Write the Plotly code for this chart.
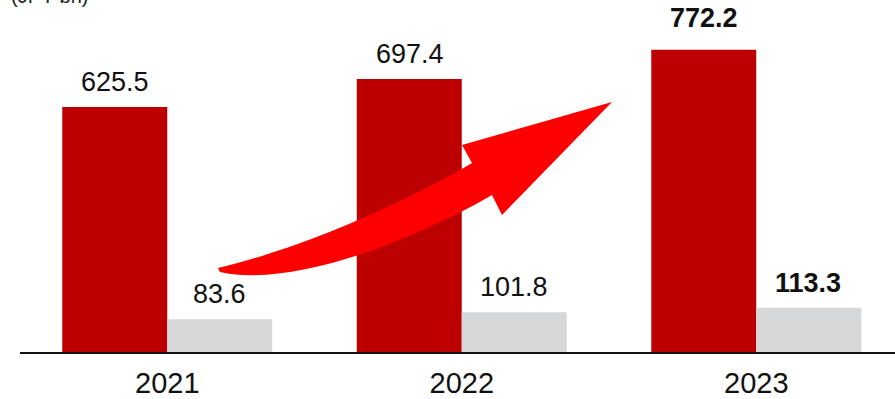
import plotly.graph_objects as go

years = ["2021", "2022", "2023"]
series_a = [625.5, 697.4, 772.2]
series_b = [83.6, 101.8, 113.3]
label_a = ["625.5", "697.4", "<b>772.2</b>"]
label_b = ["83.6", "101.8", "<b>113.3</b>"]
unit_label = "(JPY bn)"

W, H = 895, 399
ML, MR, MT, MB = 20, 0, 0, 47
PW, PH = W - ML - MR, H - MT - MB
SPACING = 294.5

RED = "#BC0000"
GRAY = "#D6D7D9"
FONT = "Liberation Sans, Arial, sans-serif"

shift_a = [8, 8, 15]
shift_b = [8, 8, 8]

fig = go.Figure()
fig.add_trace(go.Bar(x=years, y=series_a, marker=dict(color=RED, line=dict(width=0)), hoverinfo="skip"))
fig.add_trace(go.Bar(x=years, y=series_b, marker=dict(color=GRAY, line=dict(width=0)), hoverinfo="skip"))

annotations = []
for i, (v, t) in enumerate(zip(series_a, label_a)):
    annotations.append(dict(x=i, y=v, text=t, showarrow=False, xshift=-52, yanchor="bottom", yshift=shift_a[i],
                            font=dict(size=27, color="#111111", family=FONT)))
for i, (v, t) in enumerate(zip(series_b, label_b)):
    annotations.append(dict(x=i, y=v, text=t, showarrow=False, xshift=52, yanchor="bottom", yshift=shift_b[i],
                            font=dict(size=27, color="#111111", family=FONT)))
annotations.append(dict(xref="paper", yref="paper", x=0, y=1, xanchor="left", yanchor="middle",
                        xshift=-11, yshift=4, text=unit_label, showarrow=False,
                        font=dict(size=20, color="#222222", family=FONT)))


def px(x, y):
    return f"{(x - ML) / PW:.5f},{(MT + PH - y) / PH:.5f}"


arrow_path = (
    f"M {px(218,268)} "
    f"C {px(295,250)} {px(395,208)} {px(472,163)} "
    f"L {px(462,145)} L {px(612,102)} L {px(502,215)} L {px(492,195)} "
    f"C {px(400,248)} {px(285,287)} {px(220,272)} Z"
)

fig.update_layout(
    width=W, height=H,
    margin=dict(l=ML, r=MR, t=MT, b=MB, pad=0, autoexpand=False),
    paper_bgcolor="white", plot_bgcolor="white",
    barmode="group", bargap=0.287, bargroupgap=0,
    showlegend=False,
    annotations=annotations,
    shapes=[dict(type="path", xref="paper", yref="paper", path=arrow_path,
                 fillcolor="#FF0000", line=dict(width=0), layer="above")],
    font=dict(family=FONT),
)
fig.update_xaxes(type="category", range=[-0.5, -0.5 + PW / SPACING], showline=True, linecolor="#111111",
                 linewidth=2, ticks="", showgrid=False, zeroline=False, automargin=False,
                 ticklabelstandoff=4,
                 tickfont=dict(size=29, color="#111111", family=FONT))
fig.update_yaxes(range=[0, PH / 0.3915], visible=False, showgrid=False, zeroline=False, automargin=False)

fig.write_html("out.html", config={"displayModeBar": False, "staticPlot": True},
               post_script="document.body.style.margin='0';document.body.style.overflow='hidden';")
